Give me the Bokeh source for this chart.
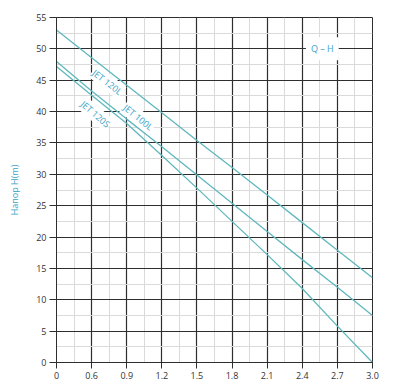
from bokeh.plotting import figure
from bokeh.models import Range1d, FixedTicker, Label, ColumnDataSource
from bokeh.embed import file_html
from bokeh.resources import INLINE

# Flow tick labels (equally spaced on the chart)
flow_labels = ["0", "0.6", "0.9", "1.2", "1.5", "1.8", "2.1", "2.4", "2.7", "3.0"]
head_ticks = [0, 5, 10, 15, 20, 25, 30, 35, 40, 45, 50, 55]

# Head (m) read at each flow tick
jet120l = [53.0, 48.6, 44.2, 39.8, 35.4, 31.1, 26.7, 22.3, 17.9, 13.5]
jet100l = [48.0, 43.3, 38.8, 34.4, 29.9, 25.4, 20.9, 16.4, 12.0, 7.5]
jet120s = [47.2, 42.6, 38.1, 33.0, 27.8, 22.5, 17.2, 11.8, 5.8, 0.0]

xs = list(range(len(flow_labels)))

LINE = "#5fb8bd"
TXT = "#3aa3c9"
FONT = "Open Sans"
DARK = "#2e2e2e"

p = figure(width=397, height=384, output_backend="svg", toolbar_location=None,
           x_range=Range1d(0, xs[-1]), y_range=Range1d(0, 55),
           min_border_left=56, min_border_right=25, min_border_top=17,
           min_border_bottom=22)
p.background_fill_color = "white"
p.border_fill_color = "white"
p.outline_line_color = DARK
p.outline_line_width = 1

xminor = [i + 0.5 for i in xs[:-1]]
yminor = [v + 2.5 for v in head_ticks[:-1]]
p.xaxis.ticker = FixedTicker(ticks=xs, minor_ticks=xminor)
p.yaxis.ticker = FixedTicker(ticks=head_ticks, minor_ticks=yminor)
p.xaxis.major_label_overrides = {i: lab for i, lab in zip(xs, flow_labels)}

for ax in (p.xaxis[0], p.yaxis[0]):
    ax.axis_line_color = DARK
    ax.major_tick_line_color = DARK
    ax.major_tick_in = 0
    ax.minor_tick_line_color = None
    ax.major_label_text_font = FONT
    ax.major_label_text_font_size = "9px"
    ax.major_label_text_color = "#333333"
p.xaxis.major_tick_out = 6
p.yaxis.major_tick_out = 7
p.xaxis.major_label_standoff = 3
p.yaxis.major_label_standoff = 3

p.yaxis.axis_label = "Напор H(m)"
p.yaxis.axis_label_text_font = FONT
p.yaxis.axis_label_text_font_size = "9px"
p.yaxis.axis_label_text_font_style = "normal"
p.yaxis.axis_label_text_color = TXT
p.yaxis.axis_label_standoff = 12

for g in (p.xgrid[0], p.ygrid[0]):
    g.grid_line_color = DARK
    g.grid_line_width = 1.2
    g.minor_grid_line_color = "#dadada"
    g.minor_grid_line_width = 1

src = ColumnDataSource(dict(x=xs, a=jet120l, b=jet100l, c=jet120s))
for col in ("a", "b", "c"):
    p.line("x", col, source=src, line_color=LINE, line_width=1.3)

labels = [
    ("JET 120L", 1.45, 44.7, -38),
    ("JET 100L", 2.33, 39.1, -39),
    ("JET 120S", 1.11, 39.6, -41),
]
for t, x, y, ang in labels:
    p.add_layout(Label(x=x, y=y, text=t, angle=ang, angle_units="deg",
                       text_align="center", text_baseline="middle",
                       text_font=FONT, text_font_size="9px", text_color=TXT,
                       background_fill_color="white", padding=1))

p.add_layout(Label(x=7.57, y=50, text="Q – H", text_align="center",
                   text_baseline="middle", text_font=FONT,
                   text_font_size="9px", text_color=TXT,
                   background_fill_color="white", padding=5))

open("out.html", "w").write(file_html(p, INLINE))
